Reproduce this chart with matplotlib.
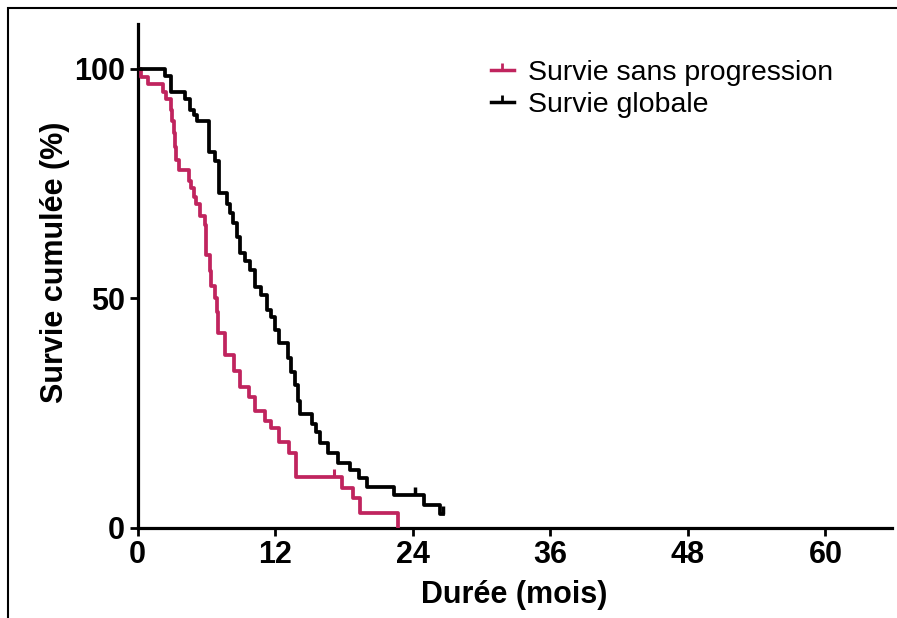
import numpy as np
import matplotlib.pyplot as plt
from matplotlib.lines import Line2D
from matplotlib.patches import Rectangle

# Survie sans progression (mois, %)
pfs_t = [0, 0.3, 0.95, 2.25, 2.5, 2.9, 3.0, 3.15, 3.3, 3.4, 3.65, 4.5, 4.7, 4.9, 5.1,
         5.45, 5.9, 6.0, 6.3, 6.45, 6.8, 6.9, 7.05, 7.6, 8.4, 8.9, 9.7, 10.25, 11.1,
         11.6, 12.3, 13.2, 13.8, 17.8, 18.8, 19.4, 22.7]
pfs_s = [100, 98.2, 96.6, 95, 93.3, 91, 88.5, 86, 83, 80, 78, 75.5, 74, 72, 70.5,
         68, 65.9, 59.4, 56, 52.7, 50, 47, 42.5, 37.6, 34.2, 30.7, 28.5, 25.5, 23.2,
         21.7, 18.7, 16.3, 11.0, 8.7, 6.5, 3.3, 0]
pfs_cens_t = [17.1]
pfs_cens_s = [11.0]

# Survie globale (mois, %)
os_t = [0, 2.4, 2.9, 4.1, 4.6, 4.9, 5.2, 6.2, 6.8, 7.1, 7.8, 8.07, 8.36, 8.65, 8.94,
        9.38, 9.8, 10.25, 10.8, 11.3, 11.6, 12.0, 12.3, 13.1, 13.4, 13.7, 14.0, 14.2,
        15.2, 15.6, 15.9, 16.6, 17.5, 18.5, 19.3, 20.0, 22.4, 25.0, 26.4, 26.6]
os_s = [100, 98.4, 95, 93.3, 91, 89.9, 88.5, 81.8, 79.9, 73, 70.5, 68.5, 66.3, 63.4,
        59.8, 58, 56.1, 52.5, 50.7, 47.4, 46, 43, 40.3, 37, 34, 31, 27.5, 24.8,
        22.5, 20.9, 18.4, 16.2, 14.0, 12.5, 10.8, 8.9, 7.2, 4.9, 3.0, 3.0]
os_cens_t = [24.2, 26.6]
os_cens_s = [7.2, 3.0]

x_ticks = [0, 12, 24, 36, 48, 60]
y_ticks = [0, 50, 100]

red = '#C0245E'
black = '#000000'
W, H = 897, 618

fig = plt.figure(figsize=(W / 100, H / 100), dpi=100)
# axes placed in pixels: origin (137.5, 527.7), x end 892, y top 23.6
ax = fig.add_axes([137.5 / W, 1 - 527.7 / H, (892 - 137.5) / W, (527.7 - 23.6) / H])

ax.step(pfs_t, pfs_s, where='post', color=red, lw=2.7, zorder=3)
ax.plot(pfs_cens_t, pfs_cens_s, ls='none', marker=2, ms=6, mew=2.2, color=red, zorder=3)
ax.step(os_t, os_s, where='post', color=black, lw=2.7, zorder=4)
ax.plot(os_cens_t, os_cens_s, ls='none', marker=2, ms=6, mew=2.5, color=black, zorder=4)

ax.set_xlim(0, 65.8)
ax.set_ylim(0, 109.8)
ax.set_xticks(x_ticks)
ax.set_yticks(y_ticks)

for s in ['top', 'right']:
    ax.spines[s].set_visible(False)
for s in ['left', 'bottom']:
    ax.spines[s].set_linewidth(2.3)

tick_font = dict(family=['Liberation Sans', 'DejaVu Sans'], weight='bold', size=22)
ax.tick_params(length=6, width=2, direction='out', pad=3)
ax.set_xticklabels([str(v) for v in x_ticks], fontdict=tick_font)
ax.set_yticklabels([str(v) for v in y_ticks], fontdict=tick_font)

# axis titles
fig.text(514 / W, 1 - 595 / H, 'Durée (mois)', ha='center', va='center',
         family=['Liberation Sans', 'DejaVu Sans'], weight='bold', size=22)
fig.text(55 / W, 1 - 262 / H, 'Survie cumulée (%)', ha='center', va='center',
         rotation=90, family=['Liberation Sans', 'DejaVu Sans'], weight='bold', size=22)

# legend
handles = [Line2D([], [], color=red, lw=2.5, marker=2, ms=5, mew=2),
           Line2D([], [], color=black, lw=2.5, marker=2, ms=5, mew=2)]
ax.legend(handles, ['Survie sans progression', 'Survie globale'],
          loc='upper left', bbox_to_anchor=(491 / W, 1 - 60 / H),
          bbox_transform=fig.transFigure, frameon=False, borderpad=0,
          borderaxespad=0, handlelength=0.8, handletextpad=0.5,
          labelspacing=0.22, numpoints=1,
          prop=dict(family=['Liberation Sans', 'DejaVu Sans'], size=20.5))

# cadre autour de la figure (coupé à droite et en bas)
fig.patches.append(Rectangle((8 / W, -0.1), 1.2, 1 - 8 / H + 0.1,
                             transform=fig.transFigure, fill=False,
                             edgecolor='black', lw=1.5))

fig.savefig('out.png', dpi=100)
